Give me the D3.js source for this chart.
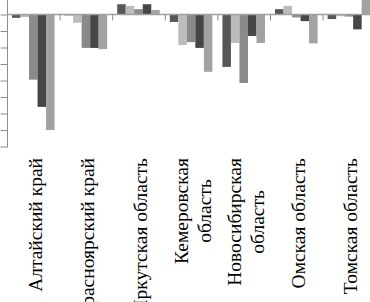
<!DOCTYPE html>
<html>
<head>
<meta charset="utf-8">
<script src="https://cdn.jsdelivr.net/npm/d3@7/dist/d3.min.js"></script>
<style>
	body{margin:0;background:#fff;}
	svg{display:block;}
	.label{font-family:"Liberation Serif","Times New Roman",serif;font-size:19.5px;fill:#000;}
</style>
</head>
<body>
<div id="chart"></div>
<script>
// regions (x categories), label lines as they are wrapped on the chart
var regions = ["Алтайский край", "Красноярский край", "Иркутская область", "Кемеровская область",
	"Новосибирская область", "Омская область", "Томская область"];
var labelLines = [["Алтайский край"], ["Красноярский край"], ["Иркутская область"],
	["Кемеровская", "область"], ["Новосибирская", "область"], ["Омская область"], ["Томская область"]];

// five series, one value per region (axis units)
var series1 = [-0.4, -0.1, 1.25, -0.9, -6.35, 0.65, -0.55];
var series2 = [-0.3, -1.0, 1.05, -3.7, -3.45, 1.05, -0.2];
var series3 = [-7.9, -4.05, 0.65, -3.35, -8.3, -0.35, -0.25];
var series4 = [-11.2, -4.05, 1.25, -4.05, -2.6, -0.8, -1.8];
var series5 = [-14.0, -4.2, 0.55, -6.95, -3.45, -3.5, 1.9];
var yTicks = [-16, -14, -12, -10, -8, -6, -4, -2, 0];
var yTop = 1.76;

var allSeries = [series1, series2, series3, series4, series5];
var colors = ["#575757", "#bcbcbc", "#8a8a8a", "#464646", "#a2a2a2"];

var width = 370, height = 302;
var left = 7, step = 52.6, bottom = 146.5, labelTop = 158;

var svg = d3.select("#chart").append("svg")
	.attr("width", width)
	.attr("height", height);

var x = d3.scaleBand()
	.domain(regions)
	.range([left, left + step * regions.length])
	.padding(0);

var xs = d3.scaleBand()
	.domain(d3.range(allSeries.length))
	.range([0, x.bandwidth()])
	.paddingInner(0)
	.paddingOuter(0.59);

var y = d3.scaleLinear()
	.domain([d3.min(yTicks), yTop])
	.range([bottom, 0]);

// bars
var groups = svg.append("g").selectAll("g")
	.data(regions)
	.enter()
	.append("g")
	.attr("transform", function(d){ return "translate(" + x(d) + ",0)"; });

groups.selectAll("rect")
	.data(function(d, i){
		return allSeries.map(function(s, k){ return {k: k, v: s[i]}; });
	})
	.enter()
	.append("rect")
	.attr("x", function(d){ return xs(d.k); })
	.attr("width", xs.bandwidth())
	.attr("y", function(d){ return y(Math.max(0, d.v)); })
	.attr("height", function(d){ return Math.abs(y(d.v) - y(0)); })
	.attr("fill", function(d){ return colors[d.k]; });

// y axis, no visible labels
var yAxis = svg.append("g")
	.attr("transform", "translate(" + left + ",0)")
	.call(d3.axisLeft(y).tickValues(yTicks).tickSize(7).tickSizeOuter(0).tickFormat(""));
yAxis.select(".domain").attr("stroke", "#8c8c8c").attr("d", "M0.5,0V" + (bottom + 1));
yAxis.selectAll(".tick line").attr("stroke", "#8c8c8c").attr("transform", "translate(0.5,0)");

// zero line with ticks between the regions
svg.append("line")
	.attr("x1", left).attr("x2", width)
	.attr("y1", y(0)).attr("y2", y(0))
	.attr("stroke", "#a0a0a0")
	.attr("stroke-width", 1.5);

svg.append("g").selectAll("line")
	.data(regions.slice(1))
	.enter()
	.append("line")
	.attr("x1", function(d){ return x(d) + 0.5; })
	.attr("x2", function(d){ return x(d) + 0.5; })
	.attr("y1", y(0))
	.attr("y2", y(0) + 6)
	.attr("stroke", "#8c8c8c");

// rotated category labels
var labels = svg.append("g").selectAll("g")
	.data(labelLines)
	.enter()
	.append("g")
	.attr("class", "label")
	.attr("transform", function(d, i){
		return "translate(" + (x(regions[i]) + x.bandwidth() / 2) + "," + labelTop + ") rotate(-90)";
	});

labels.each(function(lines){
	var g = d3.select(this);
	var n = lines.length;
	var texts = g.selectAll("text")
		.data(lines)
		.enter()
		.append("text")
		.attr("y", function(d, j){ return (j - (n - 1) / 2) * 23 + 1.5; })
		.attr("dy", "0.35em")
		.text(function(d){ return d; });
	var maxLen = 0;
	texts.each(function(){ maxLen = Math.max(maxLen, this.getComputedTextLength()); });
	texts.attr("text-anchor", "middle").attr("x", -maxLen / 2);
});
</script>
</body>
</html>
